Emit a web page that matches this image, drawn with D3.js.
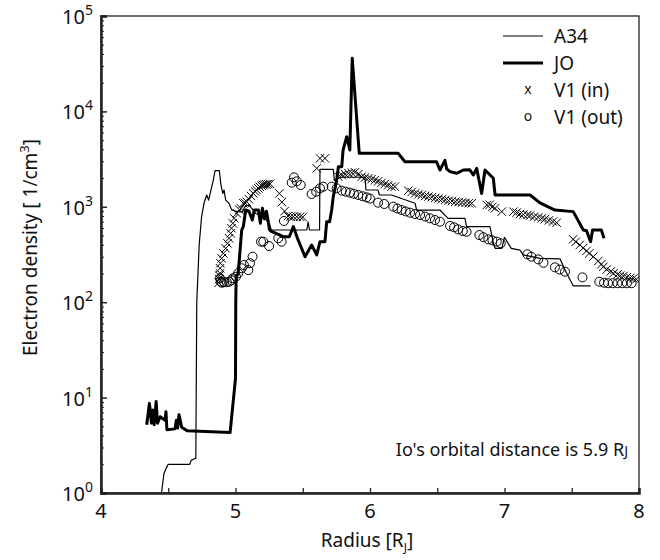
<!DOCTYPE html>
<html>
<head>
<meta charset="utf-8">
<script src="https://cdn.jsdelivr.net/npm/d3@7"></script>
<style>
  body { margin: 0; background: #fff; }
  svg { font-family: "Noto Sans", "Open Sans", sans-serif; }
</style>
</head>
<body>
<svg id="chart" width="660" height="560"></svg>
<script>
// A34 (thin line)
const a34X = [4.44, 4.45, 4.468, 4.483, 4.50, 4.66, 4.67, 4.70, 4.705, 4.712, 4.73, 4.748, 4.766, 4.786, 4.80, 4.815, 4.835, 4.848, 4.88, 4.89, 4.905, 4.915, 4.927, 4.95, 4.972, 5.0, 5.05, 5.07, 5.1, 5.15, 5.2, 5.24, 5.245, 5.53, 5.54, 5.55, 5.625, 5.628, 5.727, 5.735, 5.78, 5.963, 5.97, 6.06, 6.07, 6.16, 6.335, 6.347, 6.52, 6.58, 6.706, 6.718, 6.892, 6.92, 6.93, 6.98, 7.0, 7.05, 7.115, 7.14, 7.264, 7.413, 7.45, 7.511, 7.64];
const a34Y = [0.9, 1.0, 1.6, 1.8, 2.0, 2.0, 2.2, 2.3, 2.3, 100, 400, 790, 1090, 1330, 1175, 1440, 1900, 2400, 2400, 1760, 1380, 1500, 1175, 1100, 925, 900, 880, 1000, 1050, 850, 800, 700, 571, 571, 690, 571, 571, 2470, 2470, 1900, 2040, 2040, 1500, 1500, 1330, 1330, 1088, 925, 925, 757, 757, 620, 620, 400, 367, 367, 478, 367, 352, 313, 288, 285, 218, 148, 148];

// JO (thick line)
const joX = [4.34, 4.36, 4.375, 4.385, 4.395, 4.41, 4.42, 4.44, 4.476, 4.483, 4.49, 4.55, 4.56, 4.57, 4.58, 4.60, 4.64, 4.96, 5.0, 5.002, 5.005, 5.02, 5.046, 5.058, 5.076, 5.10, 5.125, 5.14, 5.17, 5.185, 5.20, 5.215, 5.23, 5.245, 5.26, 5.355, 5.40, 5.43, 5.46, 5.517, 5.566, 5.604, 5.628, 5.665, 5.678, 5.70, 5.715, 5.727, 5.752, 5.765, 5.79, 5.80, 5.827, 5.85, 5.868, 5.92, 6.21, 6.26, 6.495, 6.52, 6.557, 6.57, 6.595, 6.644, 6.694, 6.74, 6.768, 6.793, 6.83, 6.855, 6.917, 6.93, 7.19, 7.264, 7.375, 7.511, 7.586, 7.61, 7.64, 7.655, 7.72, 7.74];
const joY = [5.2, 8.7, 5.4, 7.4, 5.2, 9.1, 5.4, 6.3, 5.8, 7.1, 4.6, 4.7, 5.8, 4.8, 6.6, 4.9, 4.5, 4.3, 15.9, 100, 185, 200, 571, 620, 925, 900, 727, 925, 925, 671, 965, 750, 900, 680, 560, 486, 486, 620, 470, 300, 398, 313, 431, 431, 698, 698, 925, 1277, 1905, 2630, 2630, 3940, 5430, 3940, 36000, 3635, 3635, 2970, 2970, 2430, 3070, 2500, 2340, 2245, 2430, 2450, 2155, 2530, 1380, 2430, 1990, 1330, 1330, 1100, 925, 890, 571, 560, 431, 571, 571, 468];

// V1 (in), crosses
const v1inX = [4.875, 4.878, 4.88, 4.885, 4.885, 4.888, 4.897, 4.91, 4.927, 4.94, 4.952, 4.964, 4.97, 4.98, 4.99, 5.01, 5.03, 5.04, 5.058, 5.07, 5.083, 5.10, 5.115, 5.132, 5.145, 5.157, 5.17, 5.18, 5.195, 5.206, 5.218, 5.23, 5.243, 5.257, 5.326, 5.345, 5.365, 5.39, 5.41, 5.43, 5.455, 5.48, 5.50, 5.604, 5.628, 5.665, 5.765, 5.79, 5.815, 5.84, 5.865, 5.888, 5.913, 5.938, 5.963, 5.988, 6.012, 6.037, 6.06, 6.085, 6.11, 6.135, 6.16, 6.185, 6.285, 6.31, 6.335, 6.36, 6.385, 6.41, 6.435, 6.46, 6.485, 6.51, 6.535, 6.56, 6.585, 6.61, 6.635, 6.66, 6.685, 6.71, 6.735, 6.756, 6.868, 6.89, 6.91, 6.93, 6.98, 7.066, 7.09, 7.115, 7.14, 7.17, 7.19, 7.22, 7.25, 7.277, 7.30, 7.33, 7.36, 7.388, 7.51, 7.53, 7.56, 7.585, 7.61, 7.63, 7.66, 7.697, 7.72, 7.735, 7.76, 7.79, 7.81, 7.84, 7.86, 7.884, 7.91, 7.935, 7.958, 7.98];
const v1inY = [160, 175, 190, 201, 227, 256, 288, 325, 367, 414, 468, 527, 596, 671, 758, 855, 930, 965, 1088, 1100, 1130, 1200, 1300, 1380, 1450, 1500, 1560, 1625, 1660, 1690, 1710, 1720, 1730, 1740, 1380, 1120, 900, 800, 790, 790, 787, 787, 780, 2530, 3222, 3222, 2070, 2150, 2200, 2250, 2280, 2300, 2200, 2070, 2030, 1990, 1950, 1900, 1850, 1780, 1735, 1680, 1625, 1625, 1476, 1430, 1380, 1350, 1330, 1300, 1280, 1260, 1240, 1220, 1200, 1180, 1160, 1150, 1130, 1120, 1110, 1100, 1090, 1088, 1045, 1050, 1000, 965, 890, 890, 870, 840, 830, 820, 810, 790, 775, 757, 740, 720, 700, 681, 456, 430, 398, 370, 345, 325, 300, 270, 250, 235, 220, 210, 201, 195, 190, 188, 183, 180, 178, 174];

// V1 (out), circles
const v1outX = [4.885, 4.89, 4.90, 4.915, 4.935, 4.954, 4.97, 4.98, 5.003, 5.02, 5.046, 5.063, 5.095, 5.108, 5.127, 5.19, 5.207, 5.25, 5.318, 5.343, 5.36, 5.418, 5.435, 5.455, 5.485, 5.566, 5.60, 5.628, 5.653, 5.715, 5.752, 5.79, 5.82, 5.851, 5.88, 5.913, 5.945, 5.975, 6.0, 6.06, 6.106, 6.173, 6.204, 6.235, 6.265, 6.298, 6.335, 6.372, 6.41, 6.446, 6.483, 6.52, 6.595, 6.625, 6.655, 6.69, 6.718, 6.813, 6.843, 6.88, 6.91, 6.942, 6.972, 7.17, 7.20, 7.251, 7.29, 7.375, 7.41, 7.45, 7.58, 7.705, 7.74, 7.77, 7.804, 7.84, 7.875, 7.91, 7.945];
const v1outY = [178, 164, 160, 162, 162, 164, 170, 178, 185, 201, 227, 245, 217, 256, 300, 431, 431, 388, 468, 431, 710, 1790, 2037, 1850, 1690, 1362, 1440, 1563, 1625, 1625, 1563, 1476, 1440, 1406, 1370, 1330, 1290, 1257, 1220, 1105, 1070, 1003, 960, 925, 895, 867, 840, 820, 790, 757, 727, 698, 630, 610, 580, 557, 547, 506, 480, 456, 445, 431, 414, 318, 300, 281, 259, 232, 220, 209, 182, 164, 160, 158, 158, 158, 158, 158, 158];

const xTicks = [4, 5, 6, 7, 8];
const yTicks = [1, 10, 100, 1000, 10000, 100000];
const legendNames = ["A34", "JO", "V1 (in)", "V1 (out)"];

const margin = {left: 101, right: 21, top: 16, bottom: 67};
const width = 660, height = 560;

const svg = d3.select("#chart");

const x = d3.scaleLinear([4, 8], [margin.left, width - margin.right]);
const y = d3.scaleLog([1, 1e5], [height - margin.bottom, margin.top]);

svg.append("clipPath").attr("id", "clip")
  .append("rect")
    .attr("x", margin.left).attr("y", margin.top)
    .attr("width", width - margin.left - margin.right)
    .attr("height", height - margin.top - margin.bottom);

// frame
svg.append("rect")
    .attr("x", margin.left).attr("y", margin.top)
    .attr("width", width - margin.left - margin.right)
    .attr("height", height - margin.top - margin.bottom)
    .attr("fill", "none")
    .attr("stroke", "#222")
    .attr("stroke-width", 1.3);

// x axis, ticks pointing inward
svg.append("g")
    .attr("transform", `translate(0,${height - margin.bottom})`)
    .call(d3.axisBottom(x).tickValues(d3.range(4, 8.01, 0.5)).tickSize(-5).tickFormat(""))
    .call(g => g.select(".domain").attr("stroke", "#222").attr("stroke-width", 2.5))
    .call(g => g.selectAll(".tick line").attr("stroke", "#222").attr("stroke-width", 1.3));

svg.append("g")
    .selectAll("text")
    .data(xTicks)
    .join("text")
    .attr("x", d => x(d))
    .attr("y", height - margin.bottom + 25)
    .attr("text-anchor", "middle")
    .attr("font-size", 20)
    .attr("fill", "#111")
    .text(d => d);

// y axis: minor ticks and major ticks pointing inward
const minor = [];
for (let e = 0; e < 5; e++) for (let m = 2; m <= 9; m++) minor.push(m * Math.pow(10, e));

svg.append("g")
    .attr("transform", `translate(${margin.left},0)`)
    .call(d3.axisLeft(y).tickValues(minor).tickSize(-3).tickFormat(""))
    .call(g => g.select(".domain").remove())
    .call(g => g.selectAll(".tick line").attr("stroke", "#222").attr("stroke-width", 1));

svg.append("g")
    .attr("transform", `translate(${margin.left},0)`)
    .call(d3.axisLeft(y).tickValues(yTicks).tickSize(-6).tickFormat(""))
    .call(g => g.select(".domain").attr("stroke", "#222").attr("stroke-width", 2.5))
    .call(g => g.selectAll(".tick line").attr("stroke", "#222").attr("stroke-width", 1.5));

const yLab = svg.append("g")
    .selectAll("text")
    .data(yTicks)
    .join("text")
    .attr("x", margin.left - 8)
    .attr("y", d => y(d) + 8)
    .attr("text-anchor", "end")
    .attr("font-size", 20)
    .attr("fill", "#111");
yLab.append("tspan").text("10");
yLab.append("tspan").attr("dy", -9).attr("font-size", 14).text(d => Math.round(Math.log10(d)));

// axis titles
svg.append("text")
    .attr("transform", `translate(37,${(margin.top + height - margin.bottom) / 2 - 7}) rotate(-90)`)
    .attr("text-anchor", "middle")
    .attr("font-size", 19)
    .attr("fill", "#111")
    .call(t => t.append("tspan").text("Electron density [ 1/cm"))
    .call(t => t.append("tspan").attr("dy", -8).attr("font-size", 13).text("3"))
    .call(t => t.append("tspan").attr("dy", 8).text("]"));

svg.append("text")
    .attr("x", 367)
    .attr("y", 547)
    .attr("text-anchor", "middle")
    .attr("font-size", 19)
    .attr("fill", "#111")
    .call(t => t.append("tspan").text("Radius [R"))
    .call(t => t.append("tspan").attr("dy", 5).attr("font-size", 12).text("J"))
    .call(t => t.append("tspan").attr("dy", -5).text("]"));

// data
const plot = svg.append("g").attr("clip-path", "url(#clip)");
const line = d3.line().x(d => x(d[0])).y(d => y(d[1]));

plot.append("path")
    .datum(d3.zip(a34X, a34Y))
    .attr("fill", "none")
    .attr("stroke", "#000")
    .attr("stroke-width", 1.2)
    .attr("stroke-linejoin", "round")
    .attr("d", line);

plot.append("path")
    .datum(d3.zip(joX, joY))
    .attr("fill", "none")
    .attr("stroke", "#000")
    .attr("stroke-width", 3)
    .attr("stroke-linejoin", "round")
    .attr("d", line);

const cross = d3.symbol(d3.symbolTimes, 48);
plot.append("g")
    .selectAll("path")
    .data(d3.zip(v1inX, v1inY))
    .join("path")
    .attr("transform", d => `translate(${x(d[0])},${y(d[1])})`)
    .attr("d", cross)
    .attr("fill", "none")
    .attr("stroke", "#000")
    .attr("stroke-width", 1);

plot.append("g")
    .selectAll("circle")
    .data(d3.zip(v1outX, v1outY))
    .join("circle")
    .attr("cx", d => x(d[0]))
    .attr("cy", d => y(d[1]))
    .attr("r", 4.5)
    .attr("fill", "none")
    .attr("stroke", "#000")
    .attr("stroke-width", 1);

// legend
const legend = svg.append("g").attr("font-size", 19).attr("fill", "#111");
legendNames.forEach((name, i) => {
  const ly = 36 + i * 27;
  if (i < 2) {
    legend.append("line")
        .attr("x1", 503).attr("x2", 543)
        .attr("y1", ly).attr("y2", ly)
        .attr("stroke", "#000")
        .attr("stroke-width", i === 0 ? 1.2 : 3);
  } else {
    legend.append("text")
        .attr("x", 528).attr("y", ly + 4)
        .attr("text-anchor", "middle")
        .attr("font-size", 14)
        .text(i === 2 ? "x" : "o");
  }
  legend.append("text")
      .attr("x", 554).attr("y", ly + 7)
      .text(name);
});

// annotation
svg.append("text")
    .attr("x", 628).attr("y", 456)
    .attr("text-anchor", "end")
    .attr("font-size", 18)
    .attr("fill", "#111")
    .call(t => t.append("tspan").text("Io's orbital distance is 5.9 R"))
    .call(t => t.append("tspan").attr("font-size", 14).text("J"));
</script>
</body>
</html>
